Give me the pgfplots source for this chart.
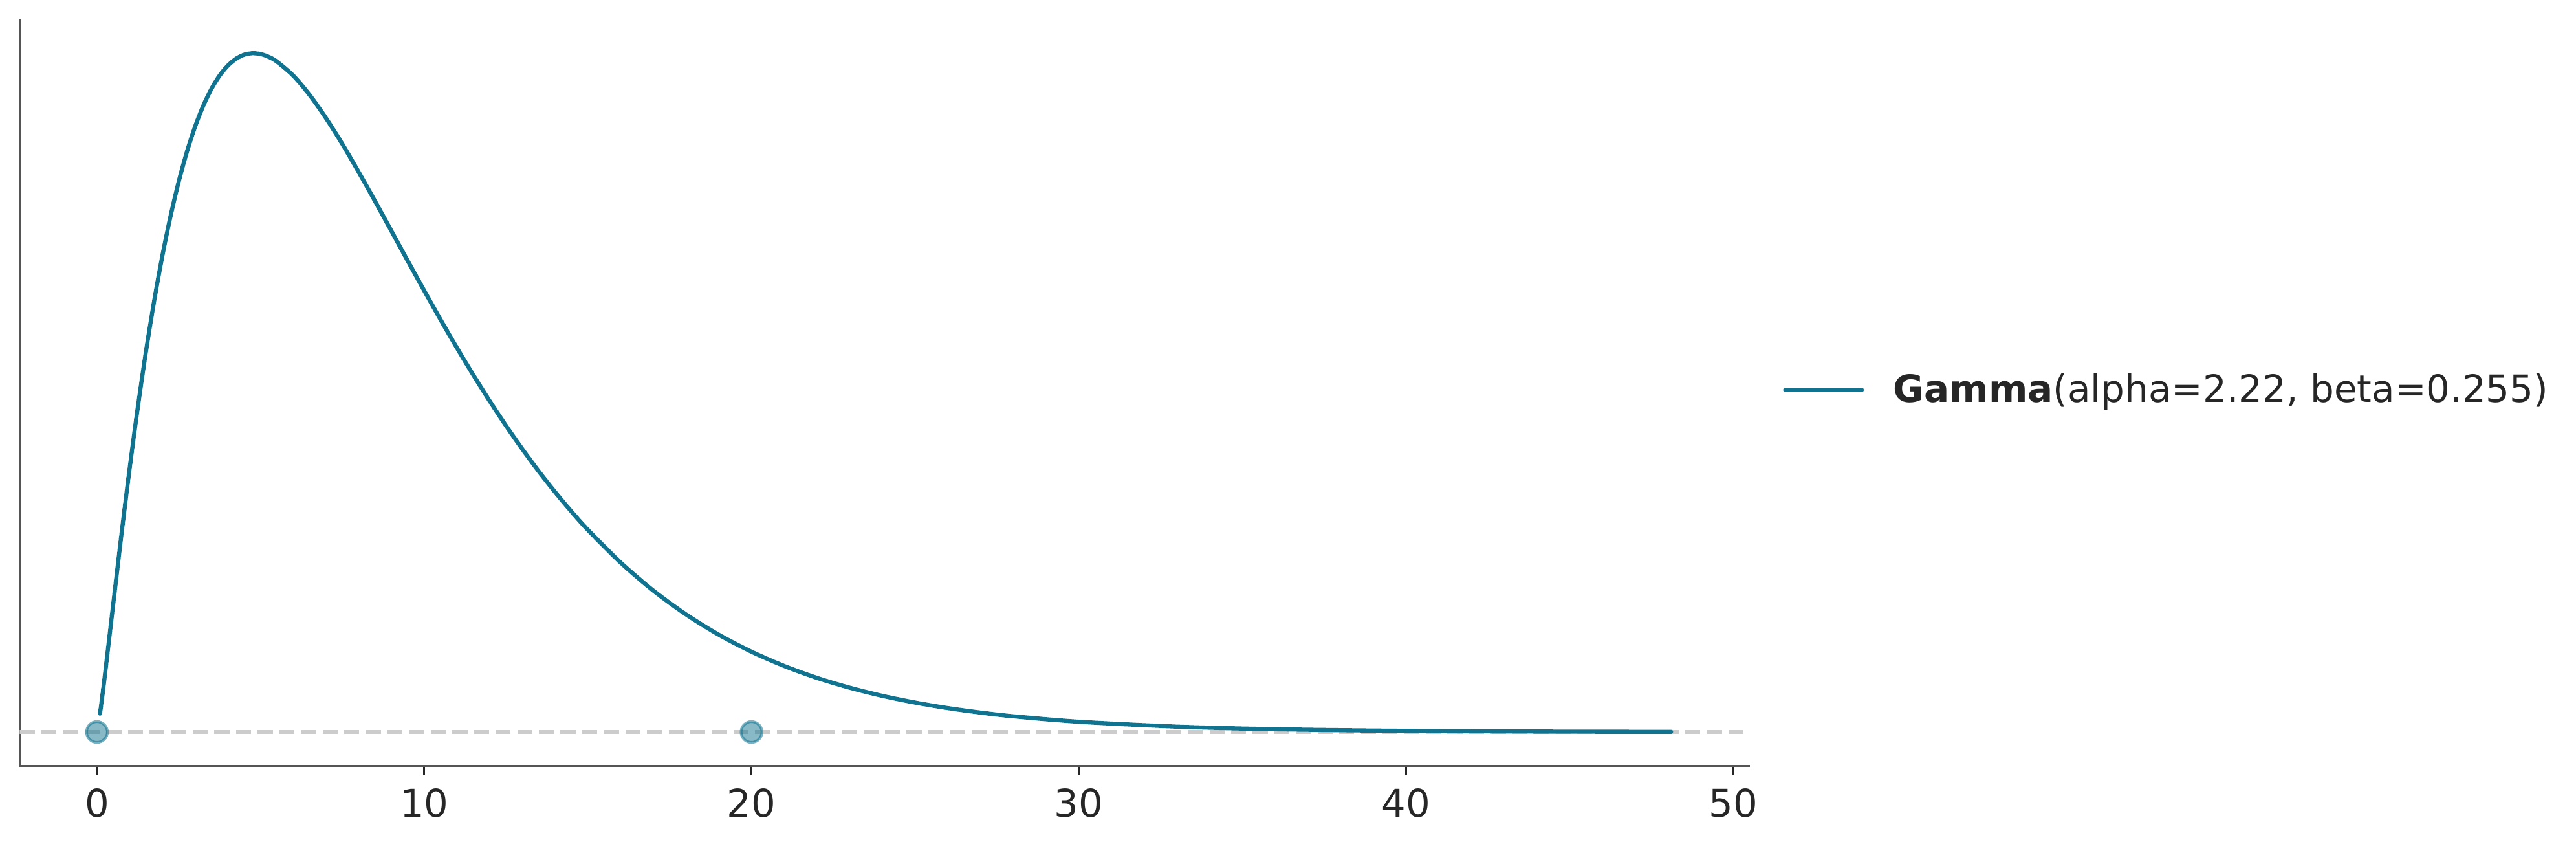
\documentclass[border=0pt]{standalone}
\usepackage{pgfplots}
\pgfplotsset{compat=1.18}
\usepackage{fontspec}
\setmainfont{DejaVu Sans}
\definecolor{curve}{HTML}{10738F}
\definecolor{spine}{HTML}{555555}
\definecolor{txt}{HTML}{262626}
\definecolor{dash}{HTML}{CCCCCC}
\begin{document}
\begin{tikzpicture}
\path[use as bounding box] (0,0) rectangle (940.8pt,307.2pt);
\begin{axis}[
  at={(7.2pt,27.6pt)}, anchor=south west,
  width=631.8pt, height=272.4pt, scale only axis,
  xmin=-2.36, xmax=50.5, ymin=-0.0043, ymax=0.0904,
  axis x line*=bottom, axis y line*=left,
  ytick=\empty,
  xtick={0,10,20,30,40,50},
  tick align=outside,
  major tick length=3.5pt,
  xtick style={color=txt, line width=0.8pt},
  axis line style={color=spine, line width=0.9pt},
  /pgf/number format/assume math mode=true,
  xticklabel style={font=\fontsize{14}{17}\selectfont, text=txt, inner sep=0pt, yshift=-4.5pt},
  legend style={at={(1.019,0.504)}, anchor=west, draw=none, fill=none,
    font=\fontsize{13.7}{17}\selectfont, text=txt, inner sep=0pt,
    nodes={inner sep=0pt},
    /tikz/every odd column/.append style={column sep=10.8pt}},
  legend image code/.code={\draw[#1, line width=1.5pt] (0pt,0pt) -- (28pt,0pt);},
]
\addplot[draw=dash, line width=1.25pt, dash pattern=on 5.5pt off 2.4pt, forget plot] coordinates {(-2.36,0) (50.5,0)};
\addplot[color=curve, line width=1.5pt, line cap=round, smooth, mark=none] coordinates {
(0.093,0.002328) (0.15,0.004113) (0.25,0.007473) (0.5,0.016334) (0.75,0.025130)
(1,0.033493) (1.25,0.041256) (1.5,0.048354) (1.75,0.054751) (2,0.060458) (2.25,0.065489)
(2.5,0.069878) (2.75,0.073648) (3,0.076835) (3.25,0.079488)
(3.5,0.081635) (3.75,0.083321) (4,0.084576) (4.25,0.085441) (4.5,0.085958) (4.75,0.086143)
(5,0.086044) (5.25,0.085679) (5.5,0.085077)
(6,0.083292) (6.5,0.08084) (7,0.07790) (7.5,0.07461) (8,0.07105) (8.5,0.06735)
(9,0.06357) (9.5,0.05977) (10,0.05602) (10.5,0.052329) (11,0.04875) (11.5,0.045307)
(12,0.04201) (12.5,0.038871) (13,0.03590) (13.5,0.033087)
(14,0.03045) (14.5,0.027973) (15,0.02566) (16,0.02151) (17,0.01795) (18,0.01492) (19,0.01235)
(20,0.01019) (21,0.008379) (22,0.006868) (23,0.005622) (24,0.004587) (25,0.0037377)
(26,0.003036) (27,0.0024652) (28,0.001996)
(30,0.001304) (33,0.000682) (36,0.000353) (40,0.000145) (44,0.0000586) (48.1,0.0000229)
};
\addlegendentry{\textbf{Gamma}(alpha=2.22, beta=0.255)}
\addplot[only marks, mark=*, mark size=3.8pt, forget plot,
  mark options={fill=curve, fill opacity=0.5, draw=curve, draw opacity=0.55, line width=1pt}]
  coordinates {(0,0) (20,0)};
\end{axis}
\end{tikzpicture}
\end{document}
